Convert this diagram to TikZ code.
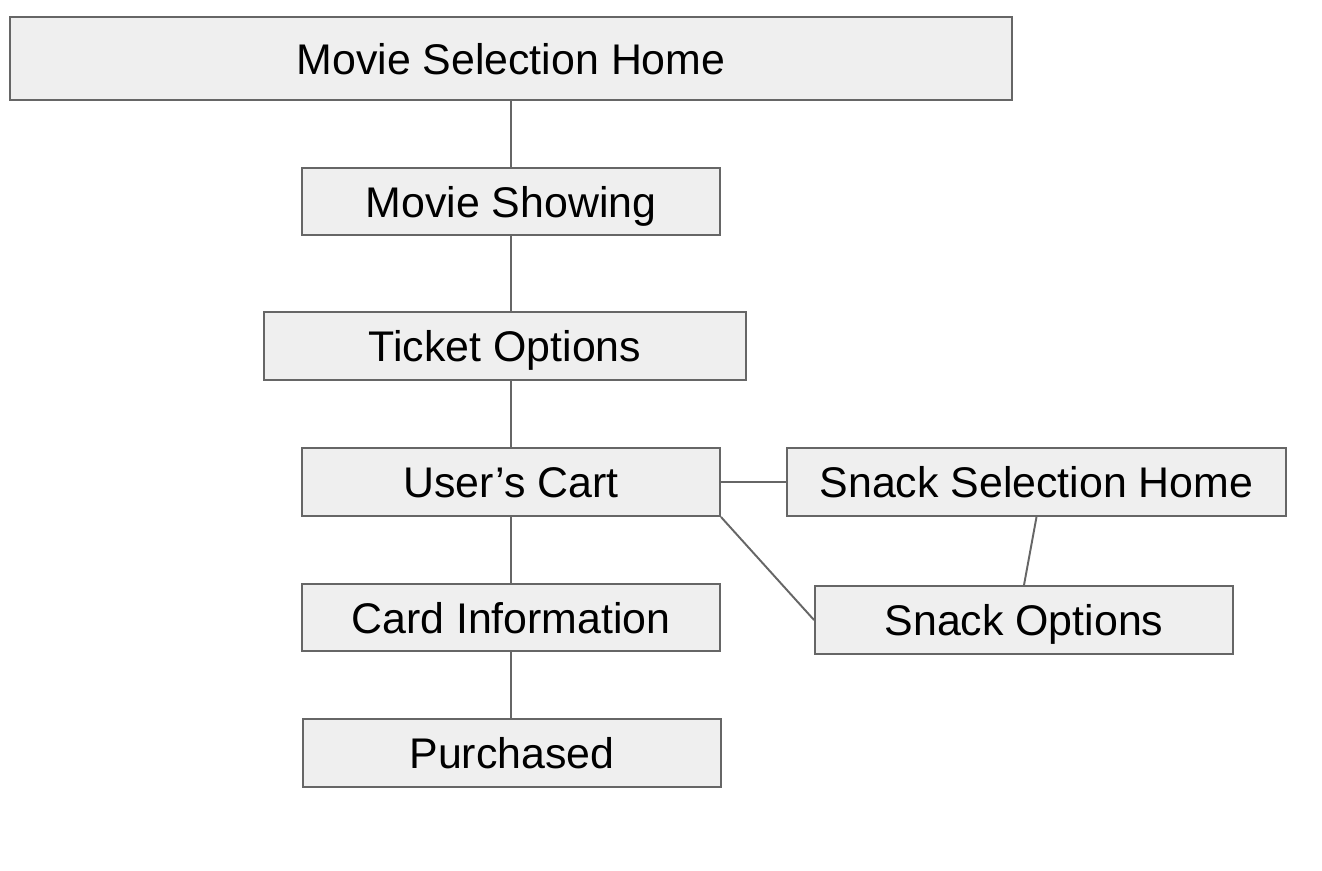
\documentclass[tikz,border=0pt]{standalone}
\usepackage{fontspec}
\setmainfont{Liberation Sans}
\definecolor{boxgray}{HTML}{EFEFEF}
\definecolor{edgegray}{HTML}{666666}
\begin{document}
\begin{tikzpicture}[
    screen/.style={draw=edgegray, line width=1.1pt, fill=boxgray, minimum height=1.36cm,
      text height=0.62cm, text depth=0pt, font=\fontsize{24.4}{29}\selectfont},
    link/.style={draw=edgegray, line width=1.1pt}
  ]
                      \useasboundingbox (0,0) rectangle (26.44,-17.4);
                      \node[screen, minimum width=20.04cm, minimum height=1.66cm] (movieHome) at (10.22,-1.17) {Movie Selection Home};
                      \node[screen, minimum width=8.36cm, minimum height=1.34cm] (showing) at (10.22,-4.03) {Movie Showing};
                      \node[screen, minimum width=9.64cm] (ticket) at (10.10,-6.92) {Ticket Options};
                      \node[screen, minimum width=8.36cm] (cart) at (10.22,-9.64) {User’s Cart};
                      \node[screen, minimum width=9.98cm] (snackHome) at (20.73,-9.64) {Snack Selection Home};
                      \node[screen, minimum width=8.36cm, minimum height=1.34cm] (card) at (10.22,-12.35) {Card Information};
                      \node[screen, minimum width=8.36cm] (snackOpt) at (20.48,-12.40) {Snack Options};
                      \node[screen, minimum width=8.36cm] (purchased) at (10.24,-15.06) {Purchased};

                      \draw[link] (movieHome.south) -- (showing.north);
                      \draw[link] (showing.south) -- (showing.south |- ticket.north);
                      \draw[link] (cart.north |- ticket.south) -- (cart.north);
                      \draw[link] (cart.east) -- (snackHome.west);
                      \draw[link] (cart.south east) -- (snackOpt.west);
                      \draw[link] (snackHome.south) -- (snackOpt.north);
                      \draw[link] (cart.south) -- (card.north);
                      \draw[link] (card.south) -- (card.south |- purchased.north);
                  \end{tikzpicture}
\end{document}
